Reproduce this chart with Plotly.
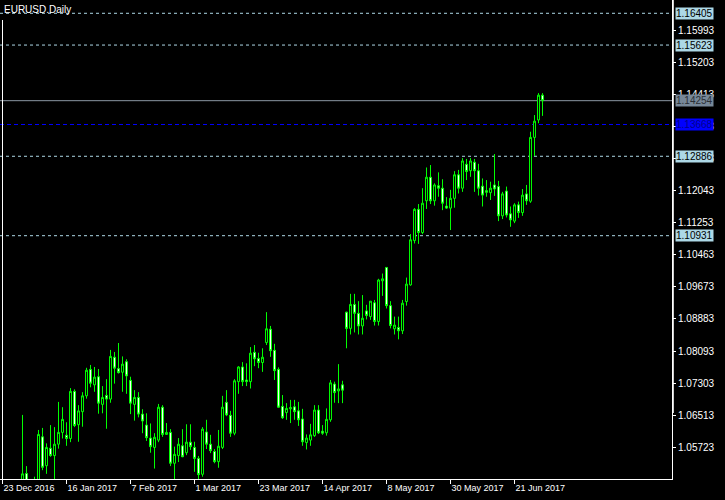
import plotly.graph_objects as go

# Daily EURUSD bars, 23 Dec 2016 .. 30 Jun 2017 (bar index 0..135)
opens = [1.0440, 1.0455, 1.0456, 1.0457, 1.0411, 1.0480, 1.0508, 1.0465, 1.0403, 1.0488,
         1.0598, 1.0527, 1.0570, 1.0552, 1.0580, 1.0609, 1.0602, 1.0594, 1.0710, 1.0628,
         1.0660, 1.0699, 1.0764, 1.0726, 1.0746, 1.0678, 1.0700, 1.0691, 1.0794, 1.0766,
         1.0757, 1.0783, 1.0737, 1.0678, 1.0695, 1.0654, 1.0627, 1.0595, 1.0572, 1.0590,
         1.0671, 1.0604, 1.0609, 1.0533, 1.0552, 1.0576, 1.0559, 1.0585, 1.0572, 1.0545,
         1.0506, 1.0610, 1.0580, 1.0562, 1.0537, 1.0572, 1.0683, 1.0651, 1.0607, 1.0734,
         1.0770, 1.0738, 1.0734, 1.0806, 1.0791, 1.0781, 1.0830, 1.0863, 1.0811, 1.0764,
         1.0673, 1.0658, 1.0667, 1.0672, 1.0662, 1.0642, 1.0584, 1.0590, 1.0601, 1.0664,
         1.0612, 1.0608, 1.0640, 1.0728, 1.0711, 1.0726, 1.0905, 1.0865, 1.0924, 1.0902,
         1.0871, 1.0908, 1.0894, 1.0928, 1.0882, 1.0982, 1.1015, 1.0921, 1.0864, 1.0867,
         1.0859, 1.0931, 1.0972, 1.1081, 1.1158, 1.1101, 1.1179, 1.1237, 1.1179, 1.1216,
         1.1210, 1.1166, 1.1161, 1.1185, 1.1243, 1.1210, 1.1269, 1.1253, 1.1274, 1.1253,
         1.1215, 1.1204, 1.1199, 1.1218, 1.1214, 1.1142, 1.1203, 1.1147, 1.1129, 1.1169,
         1.1150, 1.1196, 1.1178, 1.1335, 1.1378, 1.1439]
highs = [1.0470, 1.0465, 1.0468, 1.0460, 1.0489, 1.0652, 1.0526, 1.0485, 1.0500, 1.0615,
         1.0620, 1.0582, 1.0627, 1.0622, 1.0684, 1.0671, 1.0634, 1.0718, 1.0715, 1.0676,
         1.0708, 1.0768, 1.0775, 1.0770, 1.0765, 1.0723, 1.0740, 1.0812, 1.0807, 1.0829,
         1.0796, 1.0789, 1.0746, 1.0713, 1.0708, 1.0666, 1.0656, 1.0631, 1.0607, 1.0679,
         1.0676, 1.0632, 1.0617, 1.0574, 1.0595, 1.0617, 1.0629, 1.0629, 1.0586, 1.0551,
         1.0622, 1.0640, 1.0603, 1.0568, 1.0615, 1.0699, 1.0713, 1.0662, 1.0740, 1.0772,
         1.0782, 1.0779, 1.0819, 1.0824, 1.0805, 1.0816, 1.0905, 1.0871, 1.0827, 1.0769,
         1.0701, 1.0681, 1.0689, 1.0689, 1.0684, 1.0667, 1.0604, 1.0630, 1.0676, 1.0676,
         1.0627, 1.0668, 1.0738, 1.0734, 1.0777, 1.0736, 1.0906, 1.0950, 1.0950, 1.0932,
         1.0947, 1.0923, 1.0932, 1.0935, 1.0987, 1.1000, 1.1015, 1.0932, 1.0894, 1.0894,
         1.0935, 1.0990, 1.1097, 1.1161, 1.1171, 1.1210, 1.1261, 1.1267, 1.1222, 1.1249,
         1.1232, 1.1188, 1.1206, 1.1252, 1.1255, 1.1284, 1.1282, 1.1284, 1.1282, 1.1270,
         1.1234, 1.1230, 1.1226, 1.1294, 1.1228, 1.1201, 1.1214, 1.1165, 1.1173, 1.1177,
         1.1208, 1.1218, 1.1349, 1.1390, 1.1444, 1.1444]
lows = [1.0431, 1.0443, 1.0424, 1.0375, 1.0404, 1.0455, 1.0460, 1.0340, 1.0390, 1.0474,
        1.0516, 1.0507, 1.0549, 1.0455, 1.0569, 1.0594, 1.0576, 1.0585, 1.0622, 1.0586,
        1.0623, 1.0692, 1.0720, 1.0709, 1.0655, 1.0656, 1.0618, 1.0682, 1.0729, 1.0754,
        1.0709, 1.0704, 1.0654, 1.0638, 1.0646, 1.0607, 1.0588, 1.0559, 1.0520, 1.0585,
        1.0598, 1.0603, 1.0526, 1.0494, 1.0536, 1.0548, 1.0553, 1.0566, 1.0512, 1.0494,
        1.0500, 1.0568, 1.0558, 1.0533, 1.0522, 1.0568, 1.0649, 1.0598, 1.0602, 1.0704,
        1.0723, 1.0723, 1.0717, 1.0772, 1.0767, 1.0758, 1.0824, 1.0795, 1.0738, 1.0669,
        1.0642, 1.0640, 1.0632, 1.0640, 1.0625, 1.0576, 1.0567, 1.0576, 1.0598, 1.0605,
        1.0603, 1.0601, 1.0635, 1.0682, 1.0681, 1.0681, 1.0816, 1.0850, 1.0855, 1.0850,
        1.0850, 1.0887, 1.0886, 1.0872, 1.0872, 1.0945, 1.0914, 1.0865, 1.0850, 1.0838,
        1.0851, 1.0921, 1.0970, 1.1074, 1.1073, 1.1097, 1.1159, 1.1171, 1.1167, 1.1189,
        1.1156, 1.1159, 1.1107, 1.1162, 1.1197, 1.1201, 1.1230, 1.1238, 1.1201, 1.1192,
        1.1165, 1.1189, 1.1181, 1.1191, 1.1129, 1.1134, 1.1138, 1.1115, 1.1124, 1.1137,
        1.1142, 1.1169, 1.1174, 1.1289, 1.1370, 1.1388]
closes = [1.0455, 1.0456, 1.0457, 1.0411, 1.0480, 1.0507, 1.0465, 1.0403, 1.0488, 1.0604,
          1.0523, 1.0572, 1.0552, 1.0580, 1.0609, 1.0641, 1.0594, 1.0710, 1.0626, 1.0662,
          1.0699, 1.0762, 1.0730, 1.0745, 1.0681, 1.0695, 1.0691, 1.0796, 1.0767, 1.0756,
          1.0777, 1.0748, 1.0681, 1.0695, 1.0654, 1.0637, 1.0596, 1.0574, 1.0597, 1.0671,
          1.0604, 1.0609, 1.0533, 1.0555, 1.0580, 1.0549, 1.0585, 1.0574, 1.0545, 1.0505,
          1.0617, 1.0580, 1.0564, 1.0537, 1.0575, 1.0671, 1.0652, 1.0607, 1.0736, 1.0770,
          1.0734, 1.0734, 1.0804, 1.0790, 1.0781, 1.0794, 1.0864, 1.0810, 1.0761, 1.0671,
          1.0645, 1.0668, 1.0670, 1.0660, 1.0640, 1.0586, 1.0595, 1.0603, 1.0664, 1.0608,
          1.0607, 1.0641, 1.0731, 1.0707, 1.0716, 1.0713, 1.0865, 1.0924, 1.0902, 1.0871,
          1.0890, 1.0897, 1.0932, 1.0882, 1.0984, 1.0987, 1.0921, 1.0872, 1.0873, 1.0859,
          1.0927, 1.0974, 1.1083, 1.1158, 1.1101, 1.1173, 1.1237, 1.1179, 1.1218, 1.1210,
          1.1173, 1.1161, 1.1185, 1.1243, 1.1210, 1.1277, 1.1251, 1.1277, 1.1253, 1.1210,
          1.1193, 1.1200, 1.1210, 1.1208, 1.1142, 1.1196, 1.1144, 1.1132, 1.1169, 1.1150,
          1.1193, 1.1179, 1.1335, 1.1375, 1.1439, 1.14254]

date_tick_index = [0, 16, 32, 48, 64, 80, 96, 112, 128]
date_tick_labels = ["23 Dec 2016", "16 Jan 2017", "7 Feb 2017", "1 Mar 2017", "23 Mar 2017",
                    "14 Apr 2017", "8 May 2017", "30 May 2017", "21 Jun 2017"]
price_ticks = [1.15993, 1.15203, 1.14413, 1.13623, 1.12833, 1.12043, 1.11253,
               1.10463, 1.09673, 1.08883, 1.08093, 1.07303, 1.06513, 1.05723]
level_lines = [1.16405, 1.15623, 1.12886, 1.10931]
blue_level = 1.13668
symbol_title = "EURUSD.Daily"

x = list(range(len(opens)))
W, H = 725, 500
PW, PH = 672, 479
bar_px = 4.0
x0 = -2.5 / bar_px
x1 = x0 + PW / bar_px
y_lo, y_hi = 1.04943, 1.16732

FONT = "Liberation Sans, Arial, sans-serif"
LIME = "#00ff00"
LBLUE = "#add8e6"

fig = go.Figure()
fig.add_trace(go.Candlestick(
    x=x, open=opens, high=highs, low=lows, close=closes,
    increasing=dict(line=dict(color=LIME, width=1), fillcolor="#000000"),
    decreasing=dict(line=dict(color=LIME, width=1), fillcolor="#ffffff"),
    whiskerwidth=0, hoverinfo="skip", showlegend=False,
))

shapes = []
for lv in level_lines:
    shapes.append(dict(type="line", xref="paper", yref="y", x0=0, x1=1, y0=lv, y1=lv,
                       line=dict(color=LBLUE, width=1, dash="3px,3px"), layer="below"))
shapes.append(dict(type="line", xref="paper", yref="y", x0=0, x1=1, y0=blue_level, y1=blue_level,
                   line=dict(color="#0000ff", width=1, dash="4px,3px"), layer="below"))
last = closes[-1]
shapes.append(dict(type="line", xref="paper", yref="y", x0=0, x1=1, y0=last, y1=last,
                   line=dict(color="#8a96a3", width=1), layer="below"))
# thick upper part of price-scale border
shapes.append(dict(type="line", xref="paper", yref="paper", x0=1 + 1.3 / PW, x1=1 + 1.3 / PW,
                   y0=1 - 413 / PH, y1=1, line=dict(color="#ffffff", width=1)))
# left border line
shapes.append(dict(type="line", xref="paper", yref="paper", x0=2.5 / PW, x1=2.5 / PW,
                   y0=0, y1=1 - 20 / PH, line=dict(color="#ffffff", width=1)))

annotations = [dict(text=symbol_title, xref="paper", yref="paper", x=0, y=1, xanchor="left",
                    yanchor="top", xshift=2, yshift=-2, showarrow=False,
                    font=dict(family=FONT, size=10, color="#ffffff"))]
for lv in level_lines:
    annotations.append(dict(text=f"{lv:.5f}", xref="paper", yref="y", x=1, y=lv, xanchor="left",
                            yanchor="middle", xshift=3, showarrow=False, bgcolor=LBLUE, borderpad=0,
                            font=dict(family=FONT, size=10, color="#000000")))
annotations.append(dict(text=f"{blue_level:.5f}", xref="paper", yref="y", x=1, y=blue_level,
                        xanchor="left", yanchor="middle", xshift=3, showarrow=False, bgcolor="#0000ff",
                        borderpad=0, font=dict(family=FONT, size=10, color="#00008c")))
annotations.append(dict(text=f"{last:.5f}", xref="paper", yref="y", x=1, y=last,
                        xanchor="left", yanchor="middle", xshift=3, showarrow=False, bgcolor="#778899",
                        borderpad=0, font=dict(family=FONT, size=10, color="#2a2f36")))

fig.update_layout(
    width=W, height=H,
    margin=dict(l=0, r=W - PW, t=0, b=H - PH, pad=0, autoexpand=False),
    paper_bgcolor="#000000", plot_bgcolor="#000000",
    showlegend=False, hovermode=False,
    boxgap=0.3,
    shapes=shapes, annotations=annotations,
    xaxis=dict(range=[x0, x1], tickvals=date_tick_index, ticktext=date_tick_labels,
               ticks="outside", ticklen=4, tickcolor="#ffffff", tickwidth=1, tickangle=0,
               ticklabelposition="outside right", ticklabelstandoff=0, automargin=False,
               showline=True, linecolor="#ffffff", linewidth=1, showgrid=False, zeroline=False,
               tickfont=dict(family=FONT, size=9, color="#ffffff"),
               rangeslider=dict(visible=False), fixedrange=True),
    yaxis=dict(side="right", range=[y_lo, y_hi], tickvals=price_ticks,
               ticktext=[f"{v:.5f}" for v in price_ticks], automargin=False,
               ticks="outside", ticklen=3, tickcolor="#ffffff", tickwidth=1, ticklabelstandoff=0,
               showline=True, linecolor="#ffffff", linewidth=1, showgrid=False, zeroline=False,
               tickfont=dict(family=FONT, size=10, color="#ffffff"), fixedrange=True),
)

fig.write_html("out.html", config={"displayModeBar": False},
               post_script="document.body.style.margin='0';document.body.style.background='#000';")
